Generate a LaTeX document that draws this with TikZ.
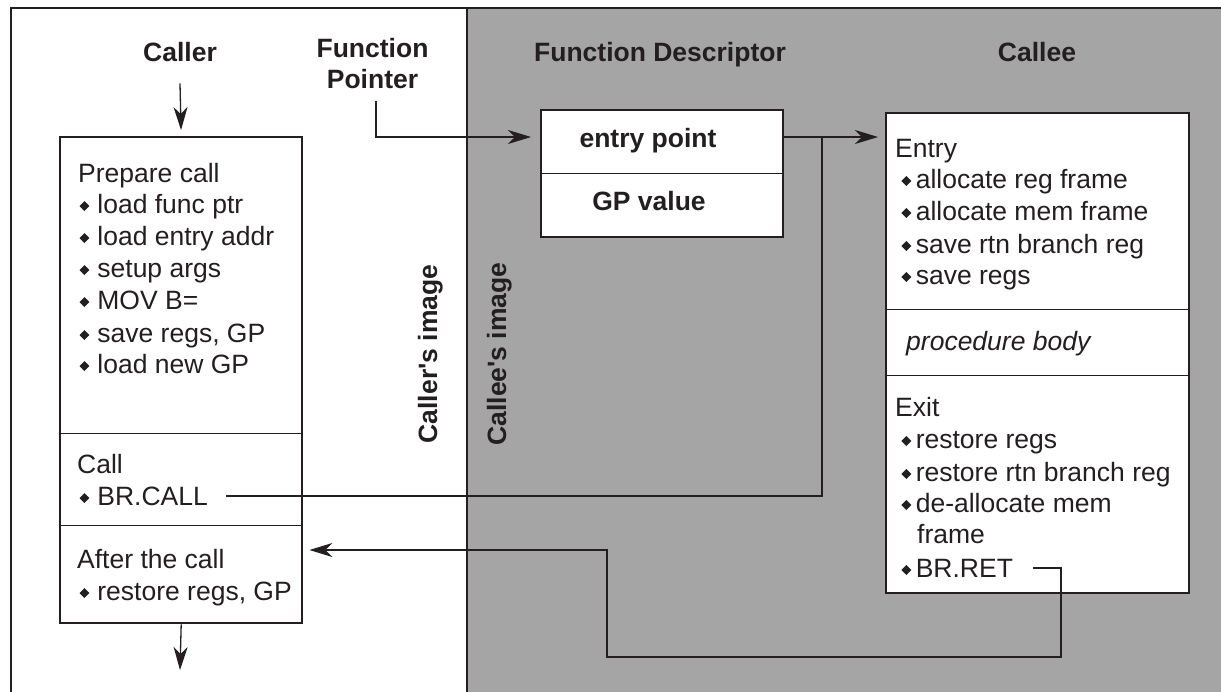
\documentclass[tikz,border=0pt]{standalone}
\usepackage{graphicx}
\usepackage{fontspec}
\setmainfont{Liberation Sans}
\usetikzlibrary{arrows.meta}
\definecolor{bggray}{RGB}{165,165,165}
\definecolor{ink}{RGB}{35,31,32}
\newcommand\bul[1]{\raisebox{2pt}{\rotatebox{45}{\rule{7pt}{7pt}}}\hspace{#1}}
\tikzset{
  txt/.style={font=\fontsize{26.5}{31}\selectfont, inner sep=0pt, anchor=base west, text=ink},
  hd/.style={font=\fontsize{26.5}{31}\selectfont\bfseries, inner sep=0pt, anchor=base, text=ink},
  box/.style={draw=ink, line width=2.4pt, fill=white, inner sep=0pt, anchor=north west},
  divline/.style={draw=ink, line width=1pt},
  frameline/.style={draw=ink, line width=2.4pt},
  conn/.style={draw=ink, line width=1.3pt},
  arr/.style={conn, -{Stealth[length=23pt, width=14pt, inset=7pt]}}
}
\begin{document}
\begin{tikzpicture}[x=1pt,y=-1pt]
\useasboundingbox (0,0) rectangle (1221,691);
\clip (0,0) rectangle (1221,691);
% background regions
\fill[white] (0,0) rectangle (1221,691);
\fill[bggray] (467,8) rectangle (1230,700);
\draw[frameline] (11,700) -- (11,8) -- (1230,8);
\draw[frameline] (467,8) -- (467,700);

% headings
\node[hd] (callerhd) at (180,61) {Caller};
\node[hd, anchor=south, align=center] (fp) at (372.5,89) {Function\\Pointer};
\node[hd] (deschd) at (660,61) {Function Descriptor};
\node[hd] (calleehd) at (1037,61) {Callee};

% rotated labels
\node[hd, rotate=90] (crimg) at (437,354) {Caller\textquotesingle s image};
\node[hd, rotate=90] (ceimg) at (506,354) {Callee\textquotesingle s image};

% caller box
\node[box, minimum width=242pt, minimum height=486pt] (caller) at (59,136) {};
\draw[divline] (caller.west |- 0,433) -- (caller.east |- 0,433);
\draw[divline] (caller.west |- 0,525) -- (caller.east |- 0,525);
\node[txt] (prep) at (78,182) {Prepare call};
\node[txt] (p1) at (79.3,213) {\bul{8pt}load func ptr};
\node[txt] (p2) at (79.3,245) {\bul{8pt}load entry addr};
\node[txt] (p3) at (79.3,277) {\bul{8pt}setup args};
\node[txt] (p4) at (79.3,309) {\bul{8pt}MOV B=};
\node[txt] (p5) at (79.3,342) {\bul{8pt}save regs, GP};
\node[txt] (p6) at (79.3,373) {\bul{8pt}load new GP};
\node[txt] (callhd) at (77,473) {Call};
\node[txt] (brcall) at (79.3,505) {\bul{8pt}BR.CALL};
\node[txt] (afterhd) at (77,568) {After the call};
\node[txt] (a1) at (79.3,600) {\bul{8pt}restore regs, GP};

% function descriptor
\node[box, minimum width=242pt, minimum height=127pt] (desc) at (540,109) {};
\draw[divline] (desc.west |- 0,173) -- (desc.east |- 0,173);
\node[hd] (entrypt) at (648,147) {entry point};
\node[hd] (gpval) at (649,210) {GP value};

% callee box
\node[box, minimum width=303pt, minimum height=480pt] (callee) at (885,112) {};
\draw[divline] (callee.west |- 0,309) -- (callee.east |- 0,309);
\draw[divline] (callee.west |- 0,375) -- (callee.east |- 0,375);
\node[txt] (entryhd) at (895,157) {Entry};
\node[txt] (e1) at (901.2,188) {\bul{4.5pt}allocate reg frame};
\node[txt] (e2) at (901.2,220) {\bul{4.5pt}allocate mem frame};
\node[txt] (e3) at (901.2,253) {\bul{4.5pt}save rtn branch reg};
\node[txt] (e4) at (901.2,284) {\bul{4.5pt}save regs};
\node[txt, font=\fontsize{26.5}{31}\selectfont\itshape] (body) at (906,350) {procedure body};
\node[txt] (exithd) at (895,416) {Exit};
\node[txt] (x1) at (901.2,448) {\bul{4.5pt}restore regs};
\node[txt] (x2) at (901.2,481) {\bul{4.5pt}restore rtn branch reg};
\node[txt] (x3) at (901.2,512) {\bul{4.5pt}de-allocate mem};
\node[txt] (x3b) at (917,543) {frame};
\node[txt] (brret) at (901.2,577) {\bul{4.5pt}BR.RET};

% connectors
\coordinate (j) at (822,137);
\coordinate (retdown) at (1061,657);
\coordinate (retleft) at (607,550);
\coordinate (out) at (180,670);

\draw[arr, shorten >=6pt] ([yshift=-22pt]callerhd.south) -- (caller.north);
\draw[arr] (caller.south) -- (out);
\draw[arr, shorten >=9pt] ([xshift=3.5pt,yshift=-12pt]fp.south) |- (desc.west |- j);
\draw[arr, shorten >=7pt] (desc.east |- j) -- (callee.west |- j);
\draw[conn] ([xshift=18pt]brcall.east) -| (j);
\draw[arr, shorten >=6pt] ([xshift=20pt]brret.east) -| (retdown) -| (retleft) -- (caller.east |- retleft);
\end{tikzpicture}
\end{document}
